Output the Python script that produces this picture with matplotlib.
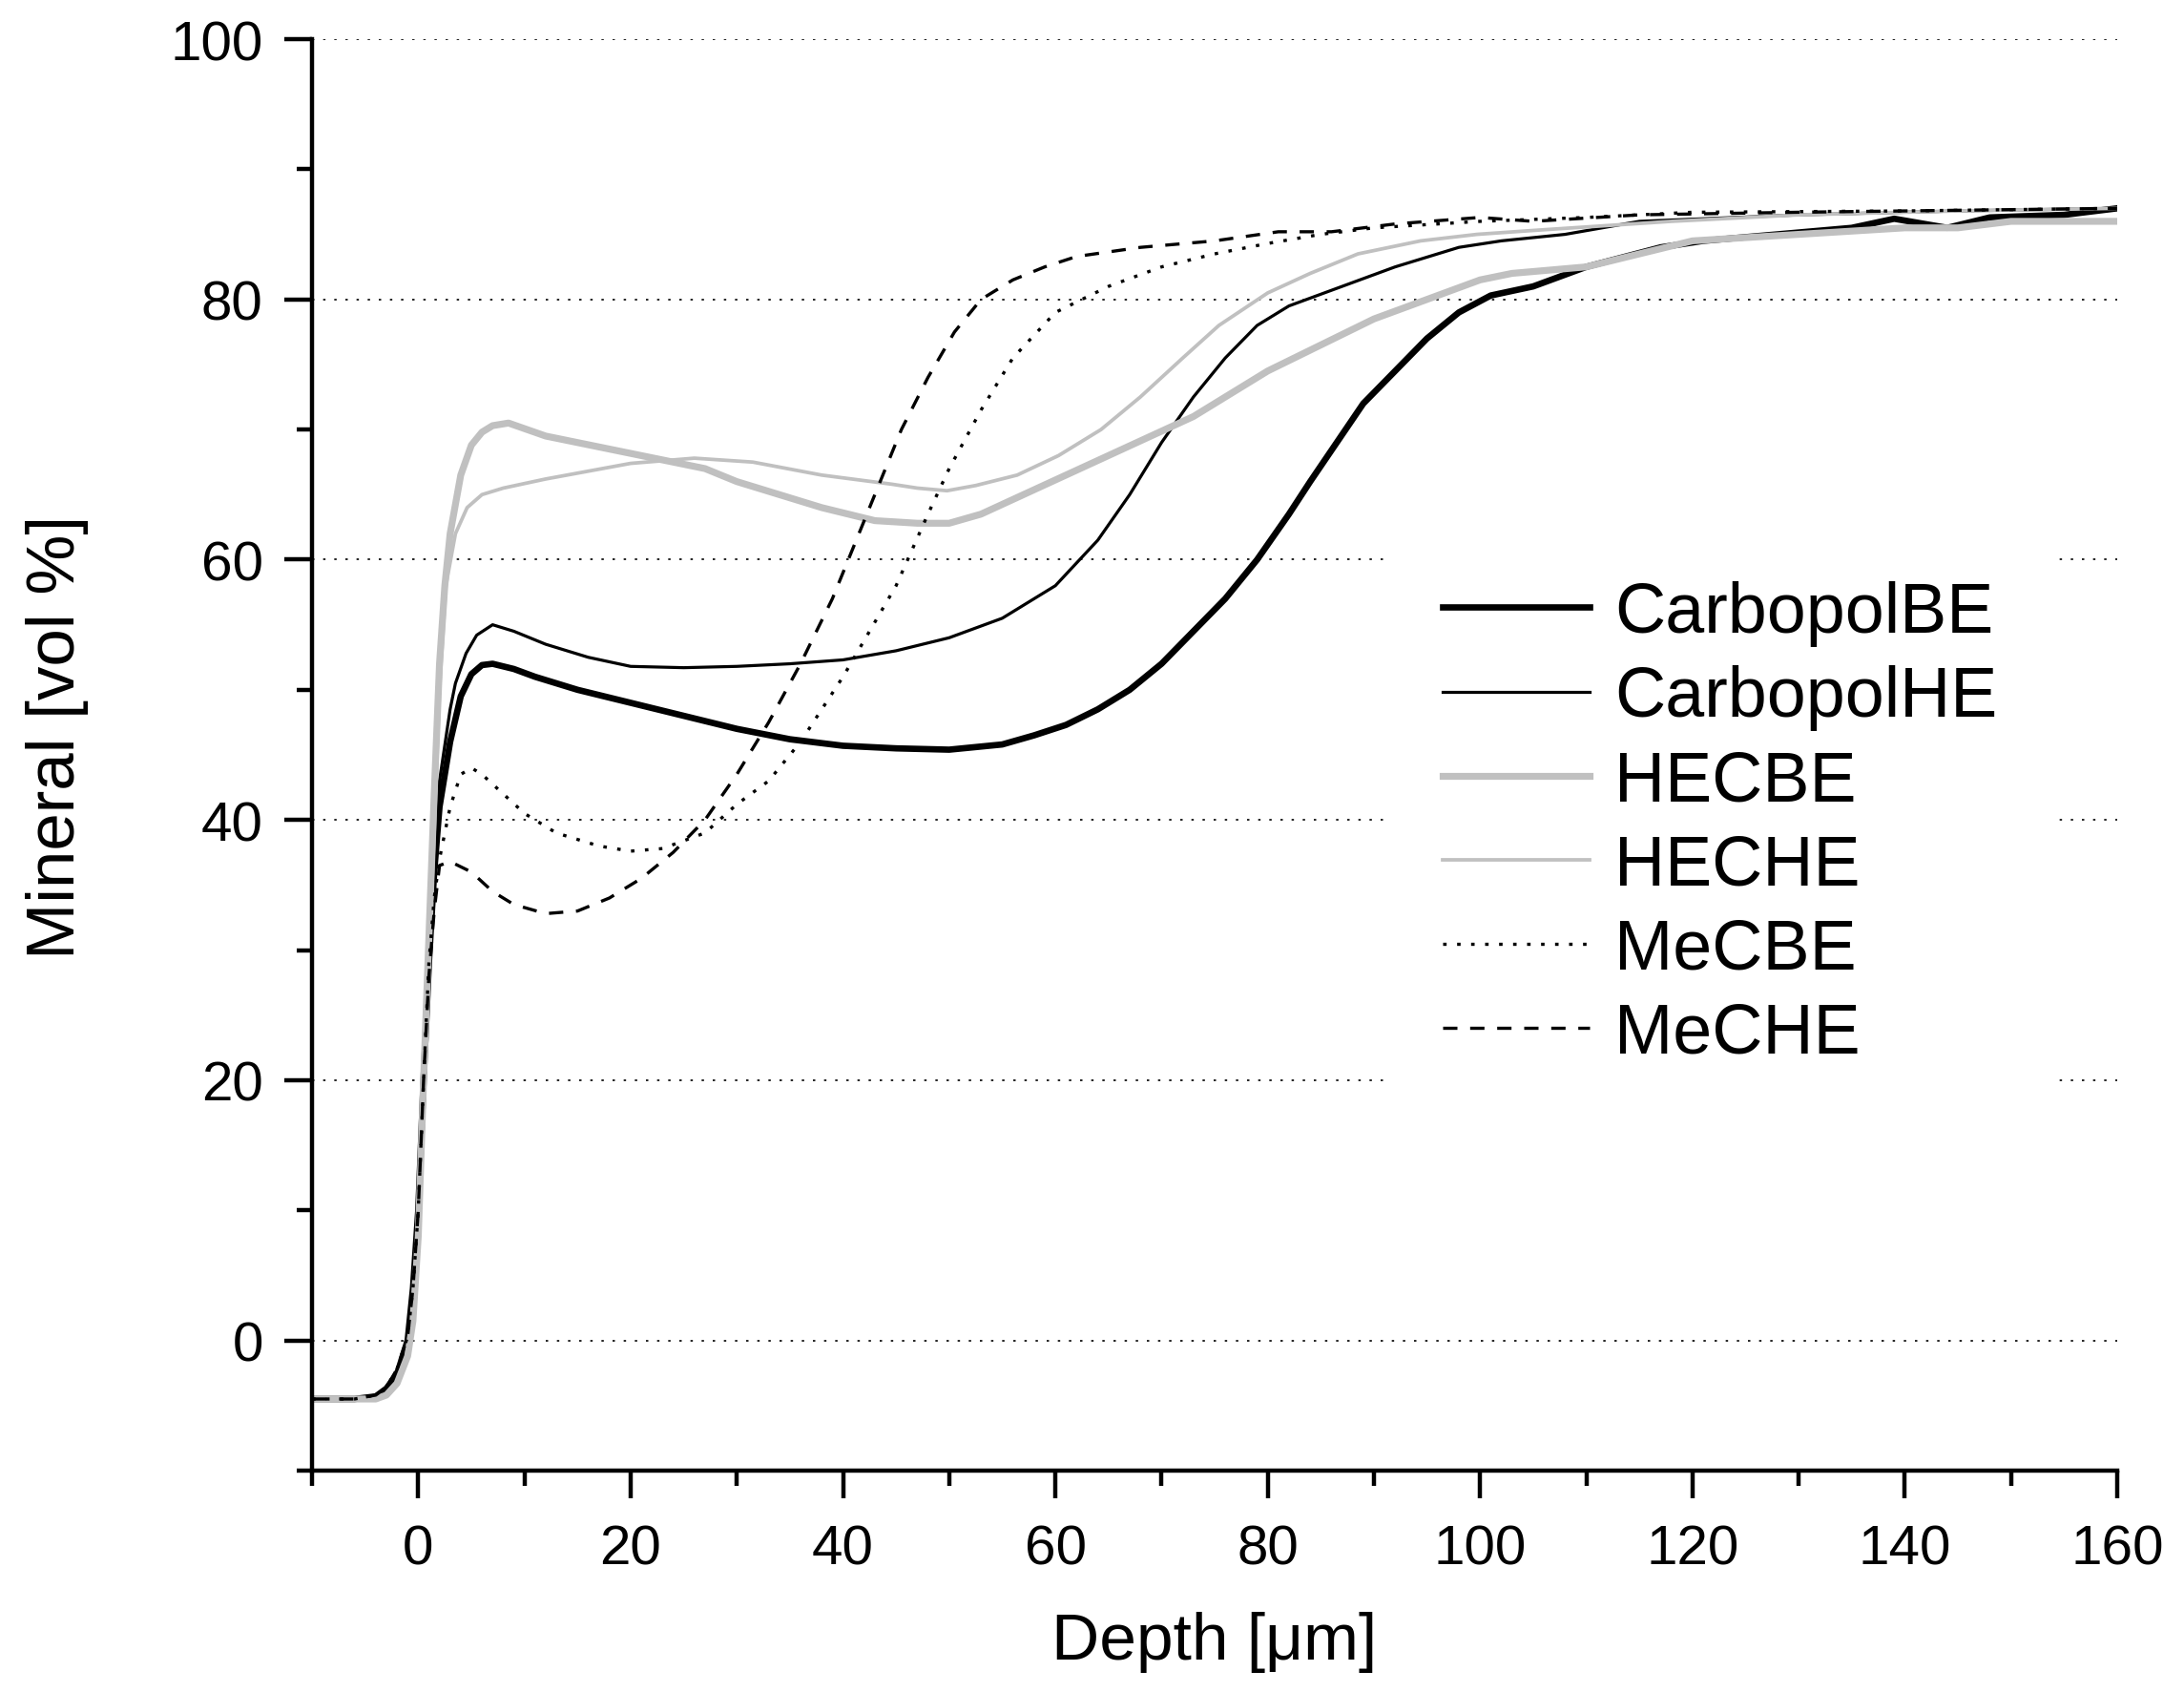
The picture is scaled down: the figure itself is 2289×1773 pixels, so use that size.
import matplotlib
matplotlib.use("Agg")
import matplotlib.pyplot as plt
from matplotlib.ticker import MultipleLocator

plt.rcParams['font.family'] = ['Liberation Sans', 'DejaVu Sans']

# depth [um] and mineral [vol %]

carb_be_x = [-10, -6, -4, -3, -2, -1, -0.5, 0, 0.5, 1, 1.5, 2, 3, 4, 5, 6, 7, 9, 11, 15, 20, 25, 30, 35, 40,
             45, 50, 55, 58, 61, 64, 67, 70, 73, 76, 79, 82, 84, 86.5, 89, 92, 95, 98, 101, 105, 110, 117,
             121, 128, 135, 139, 144, 148, 155, 160]
carb_be_y = [-4.5, -4.5, -4.3, -3.7, -2.6, 0, 4, 10, 20, 29, 36, 41, 46, 49.5, 51.2, 51.9, 52, 51.6, 51, 50, 49,
             48, 47, 46.2, 45.7, 45.5, 45.4, 45.8, 46.5, 47.3, 48.5, 50, 52, 54.5, 57, 60, 63.5, 66, 69, 72,
             74.5, 77, 79, 80.3, 81, 82.5, 84, 84.5, 85, 85.5, 86.2, 85.5, 86.3, 86.5, 87]

carb_he_x = [-10, -6, -4, -3, -2, -1, -0.5, 0, 0.5, 1, 1.5, 2, 3, 3.5, 4.5, 5.5, 7, 9, 12, 16, 20, 25, 30, 35,
             40, 45, 50, 55, 60, 64, 67, 70, 73, 76, 79, 82, 87, 92, 98, 102, 108, 115, 130, 145, 160]
carb_he_y = [-4.5, -4.5, -4.3, -3.7, -2.6, 0, 4, 10, 20, 29, 37, 43, 48.5, 50.5, 52.8, 54.2, 55, 54.5, 53.5,
             52.5, 51.8, 51.7, 51.8, 52, 52.3, 53, 54, 55.5, 58, 61.5, 65, 69, 72.5, 75.5, 78, 79.5, 81, 82.5,
             84, 84.5, 85, 86, 86.5, 86.8, 87]

hec_be_x = [-10, -6, -4, -3, -2, -1, -0.5, 0, 0.5, 1, 1.5, 2, 2.5, 3, 4, 5, 6, 7, 8.5, 12, 18, 24, 27, 30, 34,
            38, 43, 47, 50, 53, 57, 61, 65, 69, 73, 76, 80, 85, 90, 95, 100, 103, 110, 115, 120, 130, 140,
            145, 150, 160]
hec_be_y = [-4.5, -4.5, -4.5, -4.2, -3.3, -1.2, 1.5, 8, 20, 31, 42, 52, 58, 62, 66.5, 68.8, 69.8, 70.3, 70.5,
            69.5, 68.5, 67.5, 67, 66, 65, 64, 63, 62.8, 62.8, 63.5, 65, 66.5, 68, 69.5, 71, 72.5, 74.5, 76.5,
            78.5, 80, 81.5, 82, 82.5, 83.5, 84.5, 85, 85.5, 85.5, 86, 86]

hec_he_x = [-10, -6, -4, -3, -2, -1, -0.5, 0, 0.5, 1, 1.5, 2, 2.6, 3.5, 4.6, 6, 8, 12, 16, 20, 26, 31.5, 38,
            44.6, 47, 49.8, 52.5, 56.4, 60.3, 64.3, 68, 72, 75.4, 80, 84, 88.5, 94.4, 99.7, 105, 118, 130,
            145, 160]
hec_he_y = [-4.5, -4.5, -4.5, -4.2, -3.3, -1.2, 1.5, 8, 19, 29, 39, 50, 58, 62, 64, 65, 65.5, 66.2, 66.8,
            67.4, 67.8, 67.5, 66.5, 65.8, 65.5, 65.3, 65.7, 66.5, 68, 70, 72.5, 75.5, 78, 80.5, 82, 83.5, 84.5,
            85, 85.3, 86, 86.5, 86.8, 87]

mec_be_x = [-10, -6, -4, -3, -2, -1, -0.5, 0, 0.5, 1, 1.5, 2, 3, 4, 5, 6, 8, 10, 13, 17, 20, 23, 27, 30, 33,
            36, 40, 45, 48, 50, 53, 56, 60, 65, 70, 75, 80, 85, 90, 100, 110, 120, 140, 160]
mec_be_y = [-4.5, -4.5, -4.2, -3.6, -2.2, 0.3, 4, 10, 20, 29, 34, 37, 41, 43.5, 44, 43.5, 42, 40.5, 39, 38,
            37.6, 37.8, 39, 41.2, 43, 46, 51, 58, 63.5, 67, 71.5, 75.5, 79, 81, 82.5, 83.5, 84.3, 85, 85.5, 86,
            86.3, 86.7, 86.8, 87]

mec_he_x = [-10, -6, -4, -3, -2, -1, -0.5, 0, 0.5, 1, 1.5, 2, 3, 5, 7, 9, 12, 15, 18, 21, 24, 27, 30, 33, 36,
            39, 40.5, 43, 45.5, 48, 50.5, 53, 56, 59, 62, 68, 75, 81, 86, 92, 100, 105, 115, 130, 140, 160]
mec_he_y = [-4.5, -4.5, -4.2, -3.6, -2.2, 0.3, 4, 10, 20, 28, 33, 36.5, 36.8, 36, 34.5, 33.5, 32.8, 33, 34,
            35.5, 37.5, 40, 43.5, 47.5, 52, 57, 60, 65, 70, 74, 77.5, 80, 81.5, 82.5, 83.3, 84, 84.5, 85.2,
            85.2, 85.8, 86.3, 86, 86.5, 86.7, 86.8, 87]

labels = ['CarbopolBE', 'CarbopolHE', 'HECBE', 'HECHE', 'MeCBE', 'MeCHE']
xticks = [0, 20, 40, 60, 80, 100, 120, 140, 160]
yticks = [0, 20, 40, 60, 80, 100]

GRAY = '#c0c0c0'

fig = plt.figure(figsize=(22.89, 17.74), dpi=100)
ax = fig.add_axes([0.1429, 0.1308, 0.8265, 0.8455])

# grid first so curves sit on top
for yv in yticks:
    ax.axhline(yv, color='black', lw=1.2, ls=(0, (1.5, 5.5)), zorder=0)

ax.plot(carb_be_x, carb_be_y, color='black', lw=4.8, label=labels[0])
ax.plot(carb_he_x, carb_he_y, color='black', lw=2.3, label=labels[1])
ax.plot(hec_be_x, hec_be_y, color=GRAY, lw=5.2, label=labels[2])
ax.plot(hec_he_x, hec_he_y, color=GRAY, lw=2.7, label=labels[3])
ax.plot(mec_be_x, mec_be_y, color='black', lw=2.4, ls=(0, (1.1, 3.3)), label=labels[4])
ax.plot(mec_he_x, mec_he_y, color='black', lw=2.4, ls=(0, (4.5, 4)), label=labels[5])

ax.set_xlim(-10, 160)
ax.set_ylim(-10, 100)
ax.set_xticks(xticks)
ax.set_yticks(yticks)
ax.xaxis.set_minor_locator(MultipleLocator(10))
ax.yaxis.set_minor_locator(MultipleLocator(10))

for side in ['top', 'right']:
    ax.spines[side].set_visible(False)
for side in ['left', 'bottom']:
    ax.spines[side].set_linewidth(3.2)

ax.tick_params(which='major', direction='out', length=21, width=3.2, labelsize=42)
ax.tick_params(axis='x', which='major', pad=19)
ax.tick_params(axis='y', which='major', pad=16)
ax.tick_params(which='minor', direction='out', length=11.5, width=3.2)

ax.set_xlabel('Depth [\u03bcm]', fontsize=50)
ax.set_ylabel('Mineral [vol %]', fontsize=51)
ax.xaxis.set_label_coords(0.5, -0.098)
ax.yaxis.set_label_coords(-0.124, 0.513)

leg = ax.legend(loc='center left', bbox_to_anchor=(0.595, 0.452), fontsize=53, frameon=True,
                fancybox=False, handlelength=2.1, handletextpad=0.35, labelspacing=0.26,
                borderpad=0.8, borderaxespad=0)
leg.get_frame().set_facecolor('white')
leg.get_frame().set_edgecolor('none')
leg.get_frame().set_alpha(1)

fig.savefig('out.png', dpi=100)
